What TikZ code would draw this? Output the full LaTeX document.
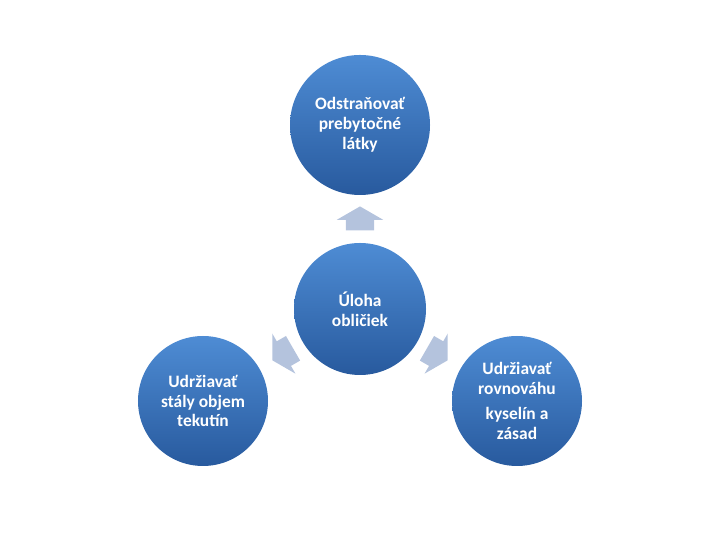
\documentclass[tikz,border=0pt]{standalone}
\usepackage{fontspec}
\setmainfont{Carlito}
\usetikzlibrary{positioning, shapes.arrows, calc}
\definecolor{orbtop}{RGB}{78,140,212}
\definecolor{orbbottom}{RGB}{40,90,158}
\definecolor{flowblue}{RGB}{180,195,221}
\tikzset{
  orb/.style={circle, top color=orbtop, bottom color=orbbottom, minimum size=130bp, inner sep=0pt,
    align=center, text=white, font=\bfseries\fontsize{17.5}{20}\selectfont},
  flow/.style={single arrow, fill=flowblue, minimum height=24bp, inner xsep=0pt, inner ysep=14bp,
    single arrow head extend=9bp, single arrow tip angle=120}
}
\begin{document}
\begin{tikzpicture}[x=1bp, y=1bp, node distance=92bp and 157bp]
    \useasboundingbox (0,0) rectangle (720,540);
    \node [orb, minimum size=132bp] (hub) at (360,231) {Úloha\\obličiek};
    \node [orb, minimum size=140bp, on grid, above=184bp of hub] (top) {Odstraňovať\\prebytočné\\látky};
    \node [orb, on grid, below left=of hub] (left) {Udržiavať\\stály objem\\tekutín};
    \node [orb, on grid, below right=of hub] (right) {Udržiavať\\rovnováhu\\[5bp]kyselín a\\zásad};

    % block arrows between the circles
    \node [flow, rotate=90] (uparrow) at ($(hub)!0.47!(top)$) {};
    \node [flow, rotate=210] (leftarrow) at ($(hub)!0.47!(left)$) {};
    \node [flow, rotate=330] (rightarrow) at ($(hub)!0.47!(right)$) {};
\end{tikzpicture}
\end{document}
